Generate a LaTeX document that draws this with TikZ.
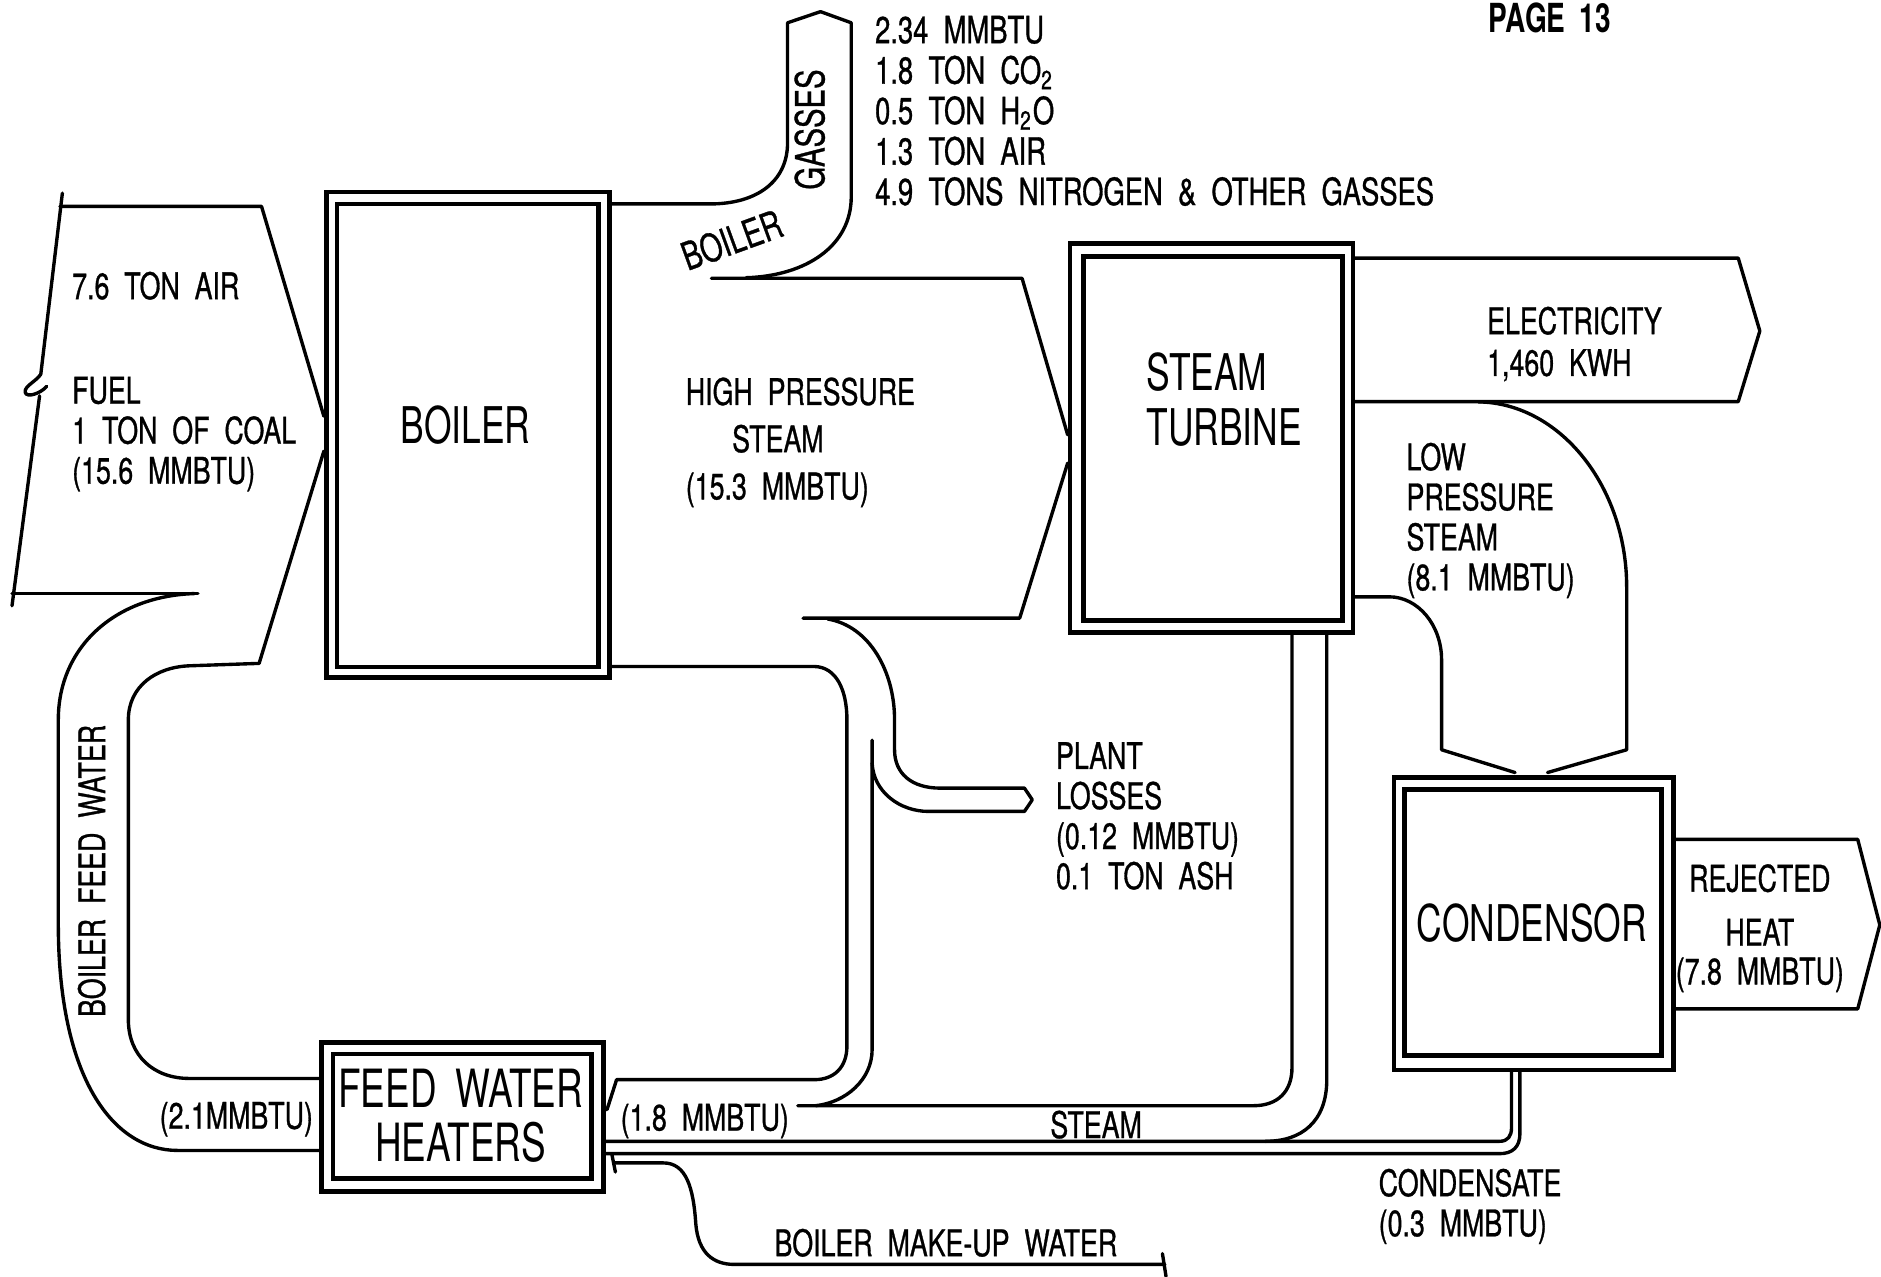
\documentclass[tikz,border=0pt]{standalone}
\usepackage{fontspec}
\setmainfont{TeX Gyre Heros}[FakeStretch=0.70,WordSpace=1.8]
\newfontfamily\cadlabfam{TeX Gyre Heros}[FakeStretch=0.73,WordSpace=2.0,FakeBold=0.8]
\newcommand\cadsmall{\cadlabfam\fontsize{8.7}{9.5}\selectfont}
\newcommand\cadbig{\fontsize{12}{13.1}\selectfont}
\begin{document}
\begin{tikzpicture}[x=0.1mm,y=-0.1mm,
  pipe/.style={line width=0.8pt,line join=round,line cap=round},
  boxline/.style={line width=1.1pt},
  lab/.style={font=\cadsmall,inner sep=0pt,align=left},
  big/.style={font=\cadbig,inner sep=0pt,align=center}]
\useasboundingbox (0,0) rectangle (1568,1064);

% ---------- boxes (double borders) ----------
\draw[boxline] (272,160) rectangle (508,565);
\draw[boxline] (281,170) rectangle (499,556);
\draw[boxline] (892,203) rectangle (1128,527);
\draw[boxline] (903,214) rectangle (1119,517);
\draw[boxline] (1162,648) rectangle (1395,892);
\draw[boxline] (1171,658) rectangle (1385,880);
\draw[boxline] (268,869) rectangle (503,993);
\draw[boxline] (277.5,878.5) rectangle (493,982.5);

\node[big] (boiler) at (388,354.5) {BOILER};
\node[big,align=left,anchor=north west] (turbine) at (955,293.4) {STEAM\\TURBINE};
\node[big] (condensor) at (1277,769.5) {CONDENSOR};
\node[big,font=\fontsize{12.5}{12.9}\selectfont] (fwh) at (384,930) {FEED WATER\\HEATERS};

% ---------- air / fuel inflow ----------
\draw[pipe] (52,161) -- (34,312) .. controls (30,318) and (20,322) .. (21,327)
  .. controls (22,332) and (34,328) .. (39,322);
\draw[pipe] (33,330) -- (10,505);
\draw[pipe] (50,172) -- (218,172) -- (270,347);
\draw[pipe] (270,376) -- (216,553) -- (158,555)
  .. controls (130,556) and (107,572) .. (107,600) -- (107,850)
  .. controls (107,880) and (128,899) .. (158,899) -- (268,899);
\draw[pipe] (10,494.5) -- (165,494.5);
\draw[pipe] (162,494.8) .. controls (95,497) and (48.6,540) .. (48.6,600) -- (48.6,770)
  .. controls (48.6,900) and (95,959) .. (148,959) -- (268,959);

% ---------- boiler gasses and high pressure steam ----------
\draw[pipe] (508,170) -- (592,170) .. controls (630,170) and (656.5,152) .. (656.5,119)
  -- (656.5,19) -- (684,9.7) -- (709.6,19) -- (709.6,164)
  .. controls (709.6,205) and (672,230) .. (622,231.5);
\draw[pipe] (593,232) -- (852,232) -- (890,362.5);
\draw[pipe] (890,386) -- (850,515.3) -- (669.4,515.3);

% ---------- plant losses / loop to feed water heaters ----------
\draw[pipe] (690,516) .. controls (725,522) and (745.7,560) .. (745.7,600) -- (745.7,625)
  .. controls (745.7,645) and (760,657) .. (784,657) -- (854,657) -- (860.5,666.7)
  -- (854,676.4) -- (774,676.4) .. controls (750,676.4) and (728,660) .. (727,636);
\draw[pipe] (727,617) -- (727,875) .. controls (727,900) and (705,919) .. (680,921.7);
\draw[pipe] (508,555.6) -- (679,555.6) .. controls (697,556) and (706,575) .. (706,600)
  -- (706,872) .. controls (706,890) and (695,900) .. (679,900) -- (514,900) -- (506,925);

% ---------- steam from turbine ----------
\draw[pipe] (1077,527) -- (1077,890) .. controls (1077,910) and (1065,921.7) .. (1045,921.7) -- (665,921.7);
\draw[pipe] (1106,527) -- (1106,900) .. controls (1106,935) and (1085,951.4) .. (1055,951.4);

% ---------- condensate ----------
\draw[pipe] (504,951.4) -- (1250,951.4) .. controls (1257,951.4) and (1260,947) .. (1260,940) -- (1260,892);
\draw[pipe] (1267,892) -- (1267,945) .. controls (1267,956) and (1261,961.7) .. (1250,961.7) -- (504,961.7);

% ---------- make-up water ----------
\draw[pipe] (512,969.4) -- (553,969.4) .. controls (572,969.4) and (578,990) .. (580,1020)
  .. controls (582,1045) and (595,1054) .. (612,1054) -- (971,1054);
\draw[pipe] (969,1045) -- (972,1064);
\draw[pipe] (510,962) -- (513,977);

% ---------- low pressure steam ----------
\draw[pipe] (1232.5,335) .. controls (1300,336) and (1356,405) .. (1356,489.5) -- (1356,625) -- (1290,644);
\draw[pipe] (1128,497.5) -- (1158,497.5) .. controls (1182,497.5) and (1201.7,521) .. (1201.7,550)
  -- (1201.7,625) -- (1263,644);

% ---------- electricity ----------
\draw[pipe] (1128,215.2) -- (1449,215.2) -- (1467,275.9) -- (1449,334.8) -- (1128,334.8);

% ---------- rejected heat ----------
\draw[pipe] (1395,699.7) -- (1548.6,699.7) -- (1567,771) -- (1548.6,841) -- (1395,841);

% ---------- labels ----------
\node[lab,anchor=north west] (air) at (59.5,225.8) {7.6 TON AIR};
\node[lab,anchor=north west] (fuel) at (59.5,313.4) {FUEL\\1 TON OF COAL\\(15.6 MMBTU)};
\node[lab,anchor=north west] (hps) at (571,314) {HIGH PRESSURE\\[1.7pt]\hspace*{11pt}STEAM\\[1.7pt](15.3 MMBTU)};
\node[lab,anchor=north west,font=\cadlabfam\fontsize{8.9}{9.6}\selectfont] (gaslist) at (728.8,12.5)
  {2.34 MMBTU\\1.8 TON CO\textsubscript{2}\\0.5 TON H\textsubscript{2}O\\1.3 TON AIR\\4.9 TONS NITROGEN \& OTHER GASSES};
\node[lab,rotate=90,font=\cadlabfam\fontsize{9.5}{10}\selectfont] (gasses) at (675,108) {GASSES};
\node[lab,rotate=20,font=\cadlabfam\fontsize{9.2}{10}\selectfont] (boilergas) at (610,200) {BOILER};
\node[lab,anchor=north west] (elec) at (1239,255) {ELECTRICITY\\[0.4pt]1,460 KWH};
\node[lab,anchor=north west] (lps) at (1171.8,368.4) {LOW\\PRESSURE\\STEAM\\(8.1 MMBTU)};
\node[lab,anchor=north west] (losses) at (879.6,618) {PLANT\\LOSSES\\(0.12 MMBTU)\\0.1 TON ASH};
\node[lab,align=center,anchor=north] (rej) at (1467,719.7) {REJECTED\\[3.3pt]HEAT\\[-0.3pt](7.8 MMBTU)};
\node[lab,rotate=90] (bfw) at (76.5,726) {BOILER FEED WATER};
\node[lab] (mm21) at (197,933) {(2.1MMBTU)};
\node[lab] (mm18) at (587.5,934.5) {(1.8 MMBTU)};
\node[lab] (steamlbl) at (913.7,937.5) {STEAM};
\node[lab,anchor=north west] (cond) at (1148.6,973.6) {CONDENSATE\\(0.3 MMBTU)};
\node[lab] (makeup) at (788.5,1036) {BOILER MAKE-UP WATER};
\node[inner sep=0pt,anchor=base,font=\fontsize{9.5}{12}\selectfont\bfseries] (page) at (1292,27) {PAGE 13};
\end{tikzpicture}
\end{document}
